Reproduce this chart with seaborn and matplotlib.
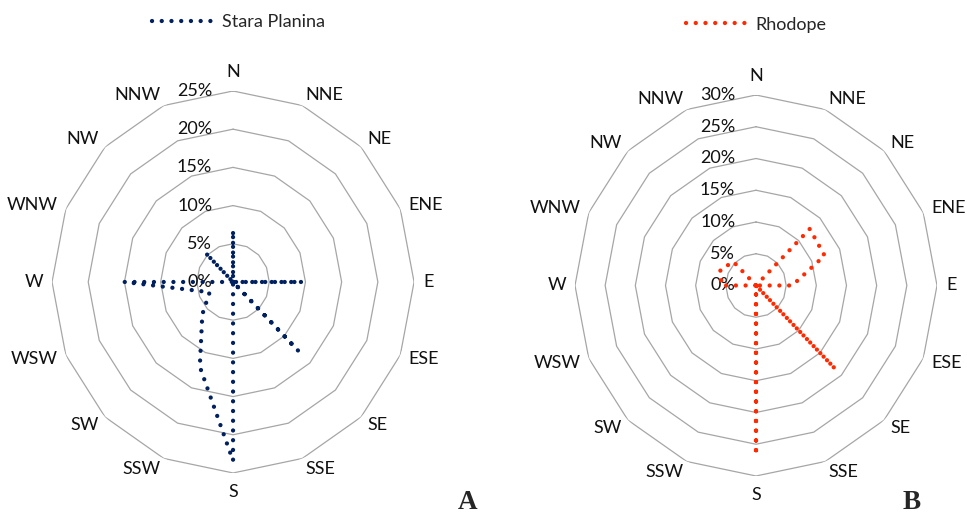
import matplotlib
matplotlib.use("Agg")
import matplotlib.pyplot as plt
import numpy as np
import pandas as pd
import seaborn as sns

directions = ["N", "NNE", "NE", "ENE", "E", "ESE", "SE", "SSE",
              "S", "SSW", "SW", "WSW", "W", "WNW", "NW", "NNW"]
stara_planina = [6.4, 0, 0, 0, 9.6, 0, 12.7, 0, 23.4, 12.0, 6.0, 3.5, 15.0, 0, 5.4, 0]
rhodope = [0, 0, 12.6, 12.3, 6.0, 0, 18.6, 0, 26.7, 0, 0, 0, 5.7, 6.4, 5.3, 0]
stara_levels = [0, 5, 10, 15, 20, 25]
rhodope_levels = [0, 5, 10, 15, 20, 25, 30]

GRID = "#a6a6a6"
FONT = ["Lato", "DejaVu Sans"]


def radar(ax, values, levels, color, label):
    theta = np.deg2rad(np.arange(len(directions)) * 22.5)
    theta_closed = np.append(theta, 2 * np.pi)
    ax.set_theta_zero_location("N")
    ax.set_theta_direction(-1)
    ax.set_aspect("auto")
    ax.grid(False)
    ax.spines["polar"].set_visible(False)
    ax.set_xticks([])
    ax.set_yticks([])
    rmax = levels[-1]

    # polygon rings
    for lvl in levels[1:]:
        ax.plot(theta_closed, [lvl] * len(theta_closed), color=GRID, lw=0.9, zorder=1)

    df = pd.DataFrame({"theta": theta_closed, "pct": values + values[:1]})
    sns.lineplot(data=df, x="theta", y="pct", ax=ax, sort=False, estimator=None,
                 color=color, lw=3.1, linestyle=(0, (0.01, 2.25)),
                 dash_capstyle="round", label=label, legend=False, zorder=3)
    ax.set_xlabel("")
    ax.set_ylabel("")
    ax.set_ylim(0, rmax)

    for lvl in levels:
        ax.annotate(f"{lvl}%", xy=(0, lvl), xytext=(-15, 0), textcoords="offset points",
                    ha="right", va="center", fontsize=13, family=FONT, color="#111111",
                    zorder=2)

    for t, name in zip(theta, directions):
        s, c = np.sin(t), np.cos(t)
        if abs(s) < 0.1:
            ha = "center"
            va = "bottom" if c > 0 else "top"
        else:
            ha = "left" if s > 0 else "right"
            va = "center"
        ax.annotate(name, xy=(t, rmax), xytext=(6.5 * s, 8 * c), textcoords="offset points",
                    ha=ha, va=va, fontsize=13, family=FONT, color="#111111",
                    annotation_clip=False)
    return ax.get_lines()[-1]


sns.set_theme(style="white")
fig = plt.figure(figsize=(9.67, 5.28), dpi=100)

ax_a = fig.add_axes([0.0538, 0.1042, 0.3744, 0.7235], projection="polar")
ax_b = fig.add_axes([0.5946, 0.0985, 0.3744, 0.7216], projection="polar")

line_a = radar(ax_a, stara_planina, stara_levels, "#002060", "Stara Planina")
line_b = radar(ax_b, rhodope, rhodope_levels, "#ff2a00", "Rhodope")

for line, txt, x, y in [(line_a, "Stara Planina", 0.2466, 0.958),
                        (line_b, "Rhodope", 0.7818, 0.953)]:
    fig.legend(handles=[line], labels=[txt], loc="center", bbox_to_anchor=(x, y),
               frameon=False, handlelength=3.3, handletextpad=0.55,
               prop={"family": FONT, "size": 13})

fig.text(0.4835, 0.025, "A", family="Liberation Serif", weight="bold", fontsize=19.5,
         ha="center", va="bottom")
fig.text(0.9432, 0.025, "B", family="Liberation Serif", weight="bold", fontsize=19.5,
         ha="center", va="bottom")

fig.savefig("out.png", dpi=100)
